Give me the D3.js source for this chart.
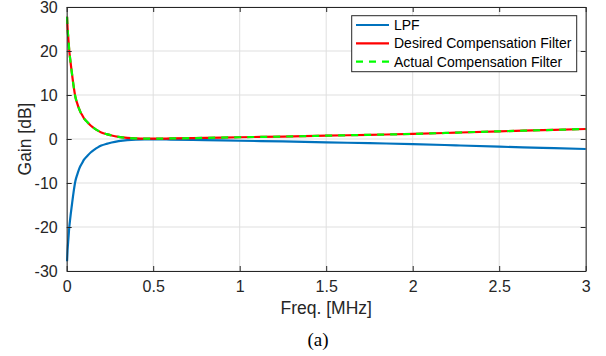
<!DOCTYPE html>
<html><head><meta charset="utf-8">
<script src="https://cdn.jsdelivr.net/npm/d3@7"></script>
<style>body{margin:0;background:#fff}svg{display:block}</style>
</head><body>
<script>
const freq = [0.002,0.005,0.01,0.015,0.02,0.03,0.04,0.05,0.06,0.07,0.08,0.09,0.10,0.12,0.14,0.16,0.18,0.20,0.23,0.26,0.30,0.35,0.40,0.45,0.5,0.6,0.8,1.0,1.25,1.5,1.75,2.0,2.25,2.5,2.75,3.0];
const lpf = [-27.8,-25.3,-22.6,-20.0,-18.2,-15.0,-12.0,-9.6,-8.2,-7.0,-6.1,-5.4,-4.7,-3.8,-3.0,-2.4,-1.9,-1.5,-1.1,-0.8,-0.5,-0.25,-0.12,-0.08,-0.08,-0.12,-0.25,-0.4,-0.55,-0.75,-0.95,-1.15,-1.45,-1.75,-2.0,-2.27];
const desired = [27.8,25.3,22.6,20.0,18.2,15.0,12.0,9.6,8.2,7.0,6.1,5.4,4.7,3.8,3.0,2.4,1.9,1.5,1.1,0.8,0.5,0.25,0.12,0.08,0.08,0.12,0.25,0.4,0.55,0.75,0.95,1.15,1.45,1.75,2.0,2.27];
const actual = [27.8,25.3,22.6,20.0,18.2,15.0,12.0,9.6,8.2,7.0,6.1,5.4,4.7,3.8,3.0,2.4,1.9,1.5,1.1,0.8,0.5,0.25,0.12,0.08,0.08,0.12,0.25,0.4,0.55,0.75,0.95,1.15,1.45,1.75,2.0,2.27];
const xTicks = [0,0.5,1,1.5,2,2.5,3];
const xTickLabels = ["0","0.5","1","1.5","2","2.5","3"];
const yTicks = [-30,-20,-10,0,10,20,30];
const yTickLabels = ["-30","-20","-10","0","10","20","30"];
const seriesNames = ["LPF","Desired Compensation Filter","Actual Compensation Filter"];

const W=606,H=356, L=66.7, R=585.7, T=7, B=271;
const svg = d3.select("body").append("svg").attr("width",W).attr("height",H);
const x = d3.scaleLinear().domain([0,3]).range([L,R]);
const y = d3.scaleLinear().domain([-30,30]).range([B,T]);
const font = "'Liberation Sans', Arial, Helvetica, sans-serif";
const axisColor = "#262626";

// grid
const g = svg.append("g");
g.selectAll(".gx").data(xTicks).join("line")
  .attr("x1",d=>x(d)).attr("x2",d=>x(d)).attr("y1",T).attr("y2",B)
  .attr("stroke","#dfdfdf").attr("stroke-width",1);
g.selectAll(".gy").data(yTicks).join("line")
  .attr("y1",d=>y(d)).attr("y2",d=>y(d)).attr("x1",L).attr("x2",R)
  .attr("stroke","#dfdfdf").attr("stroke-width",1);

// lines
const line = d3.line().x((d,i)=>x(freq[i])).y(d=>y(d)).curve(d3.curveMonotoneX);
svg.append("path").datum(lpf).attr("d",line).attr("fill","none").attr("stroke","#0072BD").attr("stroke-width",2.2);
svg.append("path").datum(desired).attr("d",line).attr("fill","none").attr("stroke","#FF0000").attr("stroke-width",2.2);
svg.append("path").datum(actual).attr("d",line).attr("fill","none").attr("stroke","#00FF00").attr("stroke-width",2.2).attr("stroke-dasharray","7,6");

// axes
const xAxis = d3.axisBottom(x).tickValues(xTicks).tickFormat((d,i)=>xTickLabels[i]).tickSizeInner(-5).tickSizeOuter(0).tickPadding(10);
const yAxis = d3.axisLeft(y).tickValues(yTicks).tickFormat((d,i)=>yTickLabels[i]).tickSizeInner(-5).tickSizeOuter(0).tickPadding(9);
const xTop = d3.axisTop(x).tickValues(xTicks).tickFormat("").tickSizeInner(-5).tickSizeOuter(0);
const yRight = d3.axisRight(y).tickValues(yTicks).tickFormat("").tickSizeInner(-5).tickSizeOuter(0);
function style(sel){
  sel.selectAll("path").attr("stroke",axisColor).attr("stroke-width",1);
  sel.selectAll("line").attr("stroke",axisColor);
  sel.selectAll("text").attr("fill",axisColor).style("font-family",font).style("font-size","16px");
}
svg.append("g").attr("transform",`translate(0,${B})`).call(xAxis).call(style);
svg.append("g").attr("transform",`translate(${L},0)`).call(yAxis).call(style);
svg.append("g").attr("transform",`translate(0,${T})`).call(xTop).call(style);
svg.append("g").attr("transform",`translate(${R},0)`).call(yRight).call(style);

// labels
svg.append("text").attr("x",(L+R)/2).attr("y",314).attr("text-anchor","middle")
  .style("font-family",font).style("font-size","17.5px").attr("fill",axisColor).text("Freq. [MHz]");
svg.append("text").attr("transform",`translate(31,${(T+B)/2}) rotate(-90)`).attr("text-anchor","middle")
  .style("font-family",font).style("font-size","17.5px").attr("fill",axisColor).text("Gain [dB]");
svg.append("text").attr("x",318).attr("y",346).attr("text-anchor","middle")
  .style("font-family","'Liberation Serif', 'Times New Roman', serif").style("font-size","19px").attr("fill","#000").text("(a)");

// legend
const lg = svg.append("g");
lg.append("rect").attr("x",351.7).attr("y",15.7).attr("width",225).attr("height",56)
  .attr("fill","#fff").attr("stroke",axisColor).attr("stroke-width",1);
const colors=["#0072BD","#FF0000","#00FF00"], dashes=[null,null,"7,6"], rowsY=[25,43.3,61.7];
seriesNames.forEach((n,i)=>{
  lg.append("line").attr("x1",356).attr("x2",389).attr("y1",rowsY[i]).attr("y2",rowsY[i])
    .attr("stroke",colors[i]).attr("stroke-width",2.2).attr("stroke-dasharray",dashes[i]);
  lg.append("text").attr("x",394).attr("y",rowsY[i]).attr("dy","0.35em")
    .style("font-family",font).style("font-size","14px").attr("fill","#000").text(n);
});
</script>
</body></html>
